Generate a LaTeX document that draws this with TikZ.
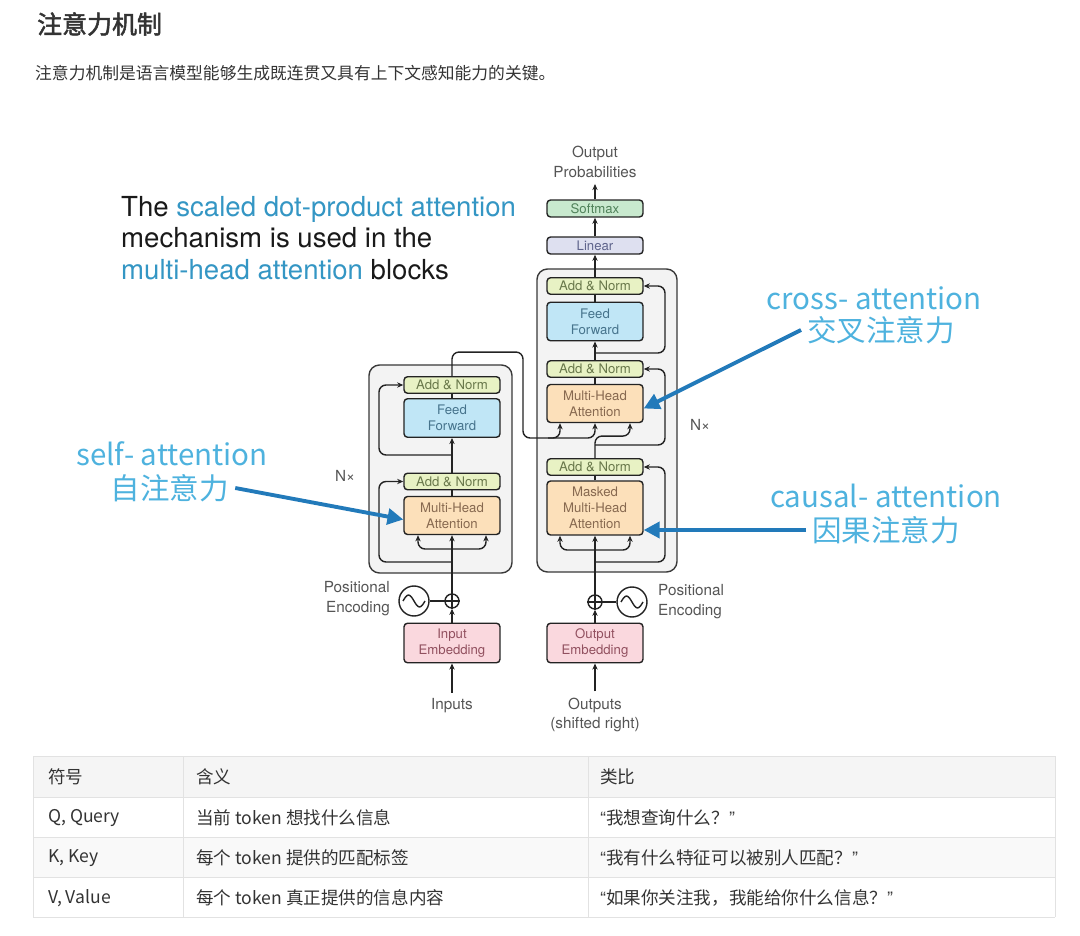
\documentclass[tikz,border=0pt]{standalone}
\usepackage{fontspec}
\setmainfont{TeX Gyre Heros}
\newfontfamily\cjk{Noto Sans CJK SC}[AutoFakeBold=2]
\usetikzlibrary{arrows.meta}

\definecolor{linec}{RGB}{35,35,35}
\definecolor{labc}{RGB}{85,85,85}
\definecolor{blkfill}{RGB}{243,243,243}
\definecolor{addc}{RGB}{232,242,196}
\definecolor{addt}{RGB}{105,120,75}
\definecolor{ffc}{RGB}{192,230,246}
\definecolor{fft}{RGB}{70,115,140}
\definecolor{mhac}{RGB}{252,224,186}
\definecolor{mhat}{RGB}{135,105,80}
\definecolor{embc}{RGB}{250,216,222}
\definecolor{embt}{RGB}{145,80,95}
\definecolor{linc}{RGB}{222,224,240}
\definecolor{lint}{RGB}{95,100,140}
\definecolor{smc}{RGB}{200,233,206}
\definecolor{smt}{RGB}{80,130,90}
\definecolor{hlblue}{RGB}{52,150,196}
\definecolor{notec}{RGB}{78,178,222}
\definecolor{arrc}{RGB}{34,122,186}
\definecolor{txt}{RGB}{51,51,51}
\definecolor{rulec}{RGB}{226,226,226}
\definecolor{headc}{RGB}{245,245,245}

\begin{document}
\begin{tikzpicture}[x=0.02cm,y=-0.02cm,
    blk/.style={draw=linec,line width=0.8pt,rounded corners=2pt,minimum width=1.92cm,inner sep=0pt,align=center,font=\fontsize{7.5}{9}\selectfont},
    addn/.style={blk,fill=addc,text=addt,minimum height=0.33cm},
    ffwd/.style={blk,fill=ffc,text=fft,minimum height=0.77cm},
    mha/.style={blk,fill=mhac,text=mhat,minimum height=0.76cm},
    emb/.style={blk,fill=embc,text=embt,minimum height=0.79cm},
    stack/.style={draw=linec!90,fill=blkfill,line width=0.8pt,rounded corners=6pt},
    lab/.style={text=labc,font=\fontsize{8.7}{11.3}\selectfont,align=center},
    ring/.style={circle,draw=linec,line width=0.8pt,inner sep=0pt},
    wire/.style={draw=linec,line width=0.8pt,rounded corners=4pt},
    arr/.style={wire,-{Stealth[length=3.5pt,width=3pt]}},
    note/.style={text=notec,font=\cjk\fontsize{16.8}{19.3}\selectfont},
    pointer/.style={draw=arrc,line width=2.2pt,-{Triangle[length=9pt,width=9pt]}},
    cell/.style={anchor=west,text=txt,font=\cjk\fontsize{10}{12}\selectfont}]
  \useasboundingbox (0,0) rectangle (1080,936);

  % heading
  \node [anchor=west,text=txt,font=\cjk\bfseries\fontsize{14.2}{16}\selectfont] (title) at (31,24) {注意力机制};
  \node [anchor=west,text=txt,font=\cjk\fontsize{9.55}{11}\selectfont] (intro) at (29,73) {注意力机制是语言模型能够生成既连贯又具有上下文感知能力的关键。};

  % the two stacks
  \draw [stack] (369,365) rectangle (512,573);
  \draw [stack] (537,269) rectangle (677,572);

  % encoder
  \node [addn] (encan2) at (452,385) {Add \& Norm};
  \node [ffwd] (encff) at (452,418) {Feed\\Forward};
  \node [addn] (encan1) at (452,481.5) {Add \& Norm};
  \node [mha] (encmha) at (452,515.5) {Multi-Head\\Attention};
  \node [emb] (inemb) at (452,643) {Input\\Embedding};
  \node [ring,minimum size=0.28cm] (encplus) at (452,601) {};
  \node [ring,minimum size=0.6cm] (encpe) at (414,601) {};
  \node [lab,anchor=east,align=right] (encpelab) at (396,599) {Positional\\Encoding};
  \node [lab] (inputs) at (452,706) {Inputs};
  \node [lab] (encn) at (345,476) {N×};

  % decoder
  \node [addn] (decan3) at (595,286) {Add \& Norm};
  \node [ffwd] (decff) at (595,321.5) {Feed\\Forward};
  \node [addn] (decan2) at (595,369) {Add \& Norm};
  \node [mha] (decmha) at (595,403.5) {Multi-Head\\Attention};
  \node [addn] (decan1) at (595,467) {Add \& Norm};
  \node [mha,minimum height=1.08cm] (decmmha) at (595,508) {Masked\\Multi-Head\\Attention};
  \node [emb] (outemb) at (595,643) {Output\\Embedding};
  \node [ring,minimum size=0.28cm] (decplus) at (595,602) {};
  \node [ring,minimum size=0.6cm] (decpe) at (632,602) {};
  \node [lab,anchor=west,align=left] (decpelab) at (652,602) {Positional\\Encoding};
  \node [lab] (outputs) at (595,715) {Outputs\\(shifted right)};
  \node [lab] (decn) at (700,425) {N×};
  \node [blk,fill=linc,text=lint,minimum height=0.34cm] (linear) at (595,245.5) {Linear};
  \node [blk,fill=smc,text=smt,minimum height=0.34cm] (softmax) at (595,208.5) {Softmax};
  \node [lab] (outprob) at (595,162) {Output\\Probabilities};

  % encoder wiring
  \draw [arr] (inputs) -- (inemb);
  \draw [arr] (inemb) -- (encplus);
  \draw [wire] (encpe) -- (encplus);
  \draw [wire,rounded corners=0pt] ([xshift=-0.22cm]encpe.center) sin ++(5.5,-6) cos ++(5.5,6) sin ++(5.5,6) cos ++(5.5,-6);
  \draw [wire] (encplus.north) -- (encplus.south) (encplus.west) -- (encplus.east);
  \draw [arr] (encplus) -- (encmha);
  \coordinate (encsplit) at (452,549);
  \draw [arr] (encsplit) -| ([xshift=-0.68cm]encmha.south);
  \draw [arr] (encsplit) -| ([xshift=0.68cm]encmha.south);
  \coordinate (encres1) at (452,562);
  \draw [arr] (encres1) -- ++(-73,0) |- (encan1.west);
  \draw [wire] (encmha) -- (encan1);
  \draw [arr] (encan1) -- (encff);
  \coordinate (encres2) at (452,455);
  \draw [arr] (encres2) -- ++(-73,0) |- (encan2.west);
  \draw [wire] (encff) -- (encan2);
  \coordinate (encbus) at (523,438);
  \draw [arr] (encan2.north) -- ++(0,-24) -| (encbus) -| ([xshift=-0.7cm]decmha.south);
  \coordinate (kvsplit) at (548,438);
  \draw [arr] (kvsplit) -| (decmha.south);

  % decoder wiring
  \draw [arr] (outputs) -- (outemb);
  \draw [arr] (outemb) -- (decplus);
  \draw [wire] (decplus) -- (decpe);
  \draw [wire,rounded corners=0pt] ([xshift=-0.22cm]decpe.center) sin ++(5.5,-6) cos ++(5.5,6) sin ++(5.5,6) cos ++(5.5,-6);
  \draw [wire] (decplus.north) -- (decplus.south) (decplus.west) -- (decplus.east);
  \draw [arr] (decplus) -- (decmmha);
  \coordinate (decsplit) at (595,550);
  \draw [arr] (decsplit) -| ([xshift=-0.7cm]decmmha.south);
  \draw [arr] (decsplit) -| ([xshift=0.7cm]decmmha.south);
  \coordinate (decres1) at (595,562);
  \draw [arr] (decres1) -- ++(70,0) |- (decan1.east);
  \draw [wire] (decmmha) -- (decan1);
  \draw [arr] (decan1.north) -- ++(0,-22) -| ([xshift=0.7cm]decmha.south);
  \coordinate (decres2) at (595,445);
  \draw [arr] (decres2) -- ++(70,0) |- (decan2.east);
  \draw [wire] (decmha) -- (decan2);
  \draw [arr] (decan2) -- (decff);
  \coordinate (decres3) at (595,353);
  \draw [arr] (decres3) -- ++(70,0) |- (decan3.east);
  \draw [wire] (decff) -- (decan3);
  \draw [arr] (decan3) -- (linear);
  \draw [arr] (linear) -- (softmax);
  \draw [arr] (softmax) -- (outprob);

  % notes
  \node [anchor=west,align=left,text=black!90,font=\fontsize{15.7}{18.1}\selectfont] (blurb) at (115,238)
    {The \textcolor{hlblue}{scaled dot-product attention}\\mechanism is used in the\\\textcolor{hlblue}{multi-head attention} blocks};
  \node [note] (selfen) at (172,454) {self- attention};
  \node [note] (selfzh) at (170,488) {自注意力};
  \node [note] (crossen) at (874,298) {cross- attention};
  \node [note] (crosszh) at (881,330) {交叉注意力};
  \node [note] (causalen) at (886,496) {causal- attention};
  \node [note] (causalzh) at (886,530) {因果注意力};
  \draw [pointer] (selfzh.east) -- ([yshift=-0.08cm]encmha.west);
  \draw [pointer] (crosszh.west) -- ([yshift=-0.1cm]decmha.east);
  \draw [pointer] (causalzh.west) -- (causalzh.west -| decmmha.east);

  % table
  \fill [headc] (33,756) rectangle (1055,797);
  \fill [headc!60] (33,837) rectangle (1055,877);
  \foreach \y in {756,797,837,877,917} \draw [rulec] (33,\y) -- (1055,\y);
  \foreach \x in {33,183,588,1055} \draw [rulec] (\x,756) -- (\x,917);
  \foreach \y/\a/\b/\c in {777/{符号}/{含义}/{类比},
      818/{Q, Query}/{当前 token 想找什么信息}/{{\normalfont“}我想查询什么？{\normalfont”}},
      858/{K, Key}/{每个 token 提供的匹配标签}/{{\normalfont“}我有什么特征可以被别人匹配？{\normalfont”}},
      898/{V, Value}/{每个 token 真正提供的信息内容}/{{\normalfont“}如果你关注我，我能给你什么信息？{\normalfont”}}} {
    \node [cell] (sym\y) at (42,\y) {\a};
    \node [cell] (mean\y) at (190,\y) {\b};
    \node [cell] (like\y) at (594,\y) {\c};
  }
\end{tikzpicture}
\end{document}
